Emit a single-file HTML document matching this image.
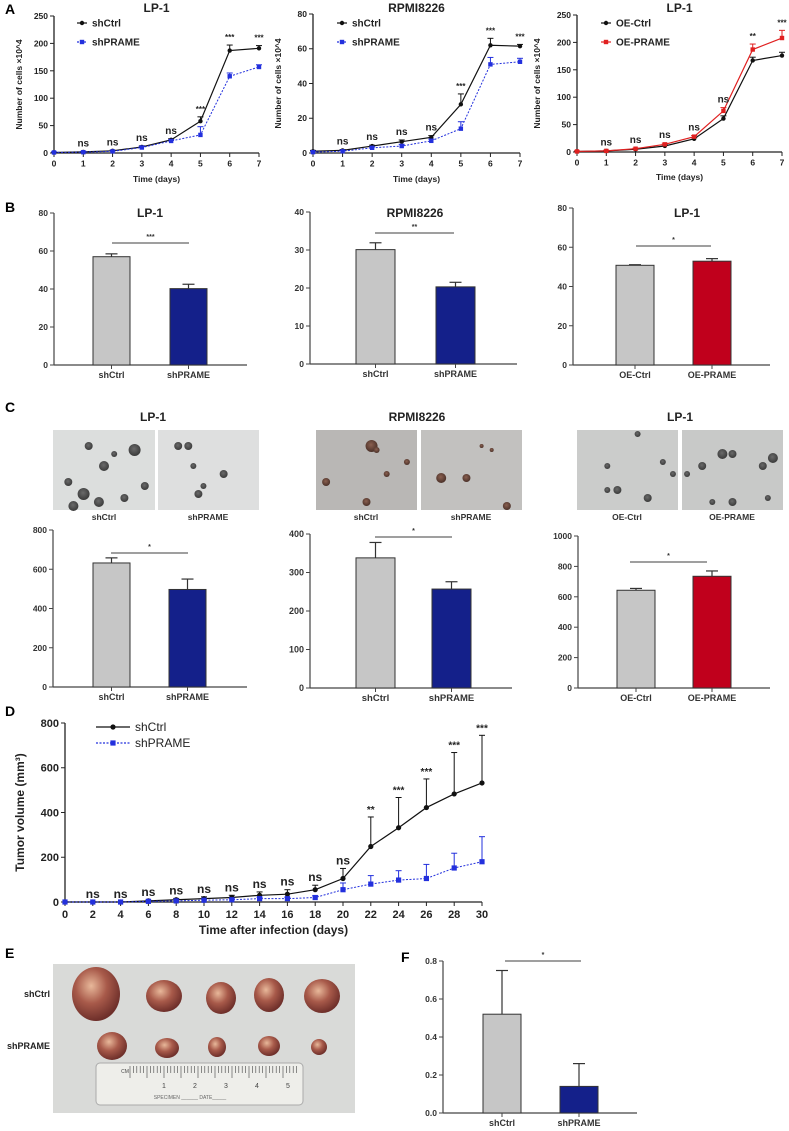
<!DOCTYPE html>
<html><head><meta charset="utf-8">
<style>
html,body{margin:0;padding:0;background:#fff;}
svg{display:block;font-family:"Liberation Sans",Arial,sans-serif;}
</style></head>
<body>
<svg id="fig" width="789" height="1131" viewBox="0 0 789 1131">
<defs>
<radialGradient id="tum" cx="40%" cy="35%" r="65%"><stop offset="0" stop-color="#e8b89a"/><stop offset="0.5" stop-color="#a85a4a"/><stop offset="1" stop-color="#6e2f2a"/></radialGradient>
<radialGradient id="col" cx="45%" cy="40%" r="60%"><stop offset="0" stop-color="#6a6a6a"/><stop offset="1" stop-color="#3a3a3a"/></radialGradient>
<radialGradient id="colr" cx="45%" cy="40%" r="60%"><stop offset="0" stop-color="#8a6050"/><stop offset="1" stop-color="#4a3028"/></radialGradient>
</defs>
</svg>
<script>
// ---------- Panel A data ----------
const A_days=[0,1,2,3,4,5,6,7];
const A1_ctrl=[1,2,4,11,24,58,187,191];
const A1_ctrlErr=[1,1,1,2,2,8,10,5];
const A1_prame=[1,1.5,3,10,22,33,140,157];
const A1_prameErr=[1,1,1,2,2,15,6,4];
const A1_sig=["","ns","ns","ns","ns","***","***","***"];
const A2_ctrl=[1,1.5,4,6.5,9,28,62,61.5];
const A2_ctrlErr=[0.5,0.5,0.5,1,1,6,4,1];
const A2_prame=[0.5,1,3,4,7,14,51,52.5];
const A2_prameErr=[0.5,0.5,0.5,1,1,4,4,2];
const A2_sig=["","ns","ns","ns","ns","***","***","***"];
const A3_ctrl=[1,2,5,11,24,61,167,176];
const A3_ctrlErr=[1,1,1,2,2,5,6,6];
const A3_prame=[1,2,6,14,28,75,187,208];
const A3_prameErr=[1,1,1,2,2,6,10,14];
const A3_sig=["","ns","ns","ns","ns","ns","**","***"];
// ---------- Panel B data ----------
const B1_cats=["shCtrl","shPRAME"]; const B1_vals=[57,40.2]; const B1_err=[1.5,2.3];
const B2_cats=["shCtrl","shPRAME"]; const B2_vals=[30.1,20.3]; const B2_err=[1.8,1.2];
const B3_cats=["OE-Ctrl","OE-PRAME"]; const B3_vals=[50.8,52.9]; const B3_err=[0.3,1.3];
// ---------- Panel C data ----------
const C1_cats=["shCtrl","shPRAME"]; const C1_vals=[632,497]; const C1_err=[26,53];
const C2_cats=["shCtrl","shPRAME"]; const C2_vals=[338,257]; const C2_err=[40,19];
const C3_cats=["OE-Ctrl","OE-PRAME"]; const C3_vals=[643,735]; const C3_err=[12,35];
// ---------- Panel D data ----------
const D_days=[0,2,4,6,8,10,12,14,16,18,20,22,24,26,28,30];
const D_ctrl=[0,0,0,5,10,15,20,30,35,55,105,248,332,422,483,532];
const D_ctrlErr=[0,0,0,3,6,8,10,15,20,20,45,132,135,128,185,213];
const D_prame=[0,0,0,3,5,8,10,15,15,20,55,80,98,105,152,180];
const D_prameErr=[0,0,0,2,3,4,5,6,6,8,30,38,42,63,66,112];
const D_sig=["","ns","ns","ns","ns","ns","ns","ns","ns","ns","ns","**","***","***","***","***"];
const D_yticks=[0,200,400,600,800];
// ---------- Panel F data ----------
const F_cats=["shCtrl","shPRAME"]; const F_vals=[0.52,0.14]; const F_err=[0.23,0.12];

const NS="http://www.w3.org/2000/svg";
const svg=document.getElementById('fig');
function mk(tag,attrs,parent,text){
  const e=document.createElementNS(NS,tag);
  for(const k in attrs)e.setAttribute(k,attrs[k]);
  if(text!==undefined)e.textContent=text;
  (parent||svg).appendChild(e);return e;
}
function txt(x,y,s,size,opts,parent){
  opts=opts||{};
  const e=mk('text',{x:x,y:y,'font-size':size,'font-weight':opts.w||'bold','text-anchor':opts.a||'middle',fill:opts.fill||'#222'},parent,s);
  if(opts.rot)e.setAttribute('transform','rotate(-90 '+x+' '+y+')');
  return e;
}
function grp(name){const g=mk('g',{});
  
  
  return g;}

function lineChart(name,c,series,sigs){
  const g=grp(name);
  const sx=v=>c.x0+(v-c.xmin)/(c.xmax-c.xmin)*(c.x1-c.x0);
  const sy=v=>c.y0-(v/c.ymax)*(c.y0-c.yTop);
  const yax=mk('line',{x1:c.x0,y1:c.y0,x2:c.x0,y2:c.yTop,stroke:'#222','stroke-width':1.3},g);
  
  
  const xax=mk('line',{x1:c.x0,y1:c.y0,x2:c.x1+(c.xpad||0),y2:c.y0,stroke:'#222','stroke-width':1.3},g);
  
  
  c.yticks.forEach(t=>{mk('line',{x1:c.x0-4,x2:c.x0,y1:sy(t),y2:sy(t),stroke:'#222'},g);
    const l=txt(c.x0-6,sy(t)+c.fs*0.35,String(t),c.fs,{a:'end'},g);
    
    });
  c.xticks.forEach(t=>{mk('line',{x1:sx(t),x2:sx(t),y1:c.y0,y2:c.y0+4,stroke:'#222'},g);
    const l=txt(sx(t),c.y0+c.fs+5,String(t),c.fs,{},g);
    
    });
  const xt=txt((c.x0+c.x1)/2,c.xtY,c.xtitle,c.tfs,{},g);
  
  
  const yt=txt(c.ytX,(c.y0+c.yTop)/2,c.ytitle,c.tfs,{rot:1},g);
  
  
  if(c.title){const tt=txt((c.x0+c.x1)/2,c.titleY,c.title,12,{},g);
    
    }
  series.forEach((s,si)=>{
    const sg=mk('g',{},g);
    
    
    s.err.forEach((e,i)=>{if(e>0){const x=sx(s.x[i]);
      mk('line',{x1:x,x2:x,y1:sy(s.y[i]),y2:sy(s.y[i]+e),stroke:s.color,'stroke-width':1},sg);
      mk('line',{x1:x-3,x2:x+3,y1:sy(s.y[i]+e),y2:sy(s.y[i]+e),stroke:s.color,'stroke-width':1},sg);}});
    const pts=s.x.map((d,i)=>sx(d)+','+sy(s.y[i])).join(' ');
    const pl=mk('polyline',{points:pts,fill:'none',stroke:s.color,'stroke-width':s.dash?1:1.2,'stroke-dasharray':s.dash?'2,1.5':'none'},sg);
    
    
    s.x.forEach((d,i)=>{let m;
      if(s.square){m=mk('rect',{x:sx(d)-c.ms,y:sy(s.y[i])-c.ms,width:2*c.ms,height:2*c.ms,fill:s.color},sg);}
      else{m=mk('circle',{cx:sx(d),cy:sy(s.y[i]),r:c.ms,fill:s.color},sg);}
      
      });
    const ly=c.legY+si*c.legDy;
    mk('line',{x1:c.legX,x2:c.legX+c.legW,y1:ly,y2:ly,stroke:s.color,'stroke-width':1.2,'stroke-dasharray':s.dash?'2,1.5':'none'},g);
    if(s.square)mk('rect',{x:c.legX+c.legW/2-c.ms,y:ly-c.ms,width:2*c.ms,height:2*c.ms,fill:s.color},g);
    else mk('circle',{cx:c.legX+c.legW/2,cy:ly,r:c.ms,fill:s.color},g);
    const lt=txt(c.legX+c.legW+5,ly+c.lfs*0.35,s.label,c.lfs,{a:'start',w:c.legW>25?'normal':'bold'},g);
    
    
  });
  sigs.forEach((s,i)=>{if(!s)return;
    let top=0;series.forEach(se=>{top=Math.max(top,se.y[i]+se.err[i]);});
    const isStar=s.indexOf('*')>=0;
    const l=txt(sx(series[0].x[i]),sy(top)-c.sigOff,s,isStar?c.starFs:c.nsFs,{},g);
    
    });
}

const aCommon={xmin:0,xmax:7,xticks:A_days,fs:8.5,tfs:8.5,ms:2.2,legDy:19,legW:10,lfs:10,sigOff:5,nsFs:10,starFs:8,xpad:0};
lineChart('chart-a1-lp1',Object.assign({},aCommon,{x0:54,x1:259,y0:153,yTop:16,ymax:250,yticks:[0,50,100,150,200,250],xtY:182,xtitle:'Time (days)',ytX:22,ytitle:'Number of cells ×10^4',title:'LP-1',titleY:12,legX:77,legY:23}),
 [{label:'shCtrl',x:A_days,y:A1_ctrl,err:A1_ctrlErr,color:'#111'},{label:'shPRAME',x:A_days,y:A1_prame,err:A1_prameErr,color:'#2330dd',dash:1,square:1}],A1_sig);
lineChart('chart-a2-rpmi8226',Object.assign({},aCommon,{x0:313,x1:520,y0:153,yTop:14,ymax:80,yticks:[0,20,40,60,80],xtY:182,xtitle:'Time (days)',ytX:281,ytitle:'Number of cells ×10^4',title:'RPMI8226',titleY:12,legX:337,legY:23}),
 [{label:'shCtrl',x:A_days,y:A2_ctrl,err:A2_ctrlErr,color:'#111'},{label:'shPRAME',x:A_days,y:A2_prame,err:A2_prameErr,color:'#2330dd',dash:1,square:1}],A2_sig);
lineChart('chart-a3-lp1-oe',Object.assign({},aCommon,{x0:577,x1:782,y0:152,yTop:15,ymax:250,yticks:[0,50,100,150,200,250],xtY:180,xtitle:'Time (days)',ytX:540,ytitle:'Number of cells ×10^4',title:'LP-1',titleY:12,legX:601,legY:23}),
 [{label:'OE-Ctrl',x:A_days,y:A3_ctrl,err:A3_ctrlErr,color:'#111'},{label:'OE-PRAME',x:A_days,y:A3_prame,err:A3_prameErr,color:'#e02020',square:1}],A3_sig);

function barChart(name,c,cats,vals,errs,colors,sig){
  const g=grp(name);
  const sy=v=>c.y0-(v/c.ymax)*(c.y0-c.yTop);
  mk('line',{x1:c.x0,y1:c.y0,x2:c.x0,y2:c.yTop,stroke:'#444','stroke-width':1.2},g);
  mk('line',{x1:c.x0,y1:c.y0,x2:c.xEnd,y2:c.y0,stroke:'#444','stroke-width':1.2},g);
  c.yticks.forEach(t=>{mk('line',{x1:c.x0-4,x2:c.x0,y1:sy(t),y2:sy(t),stroke:'#444'},g);
    const l=txt(c.x0-6,sy(t)+3,String(t),c.fs,{a:'end',fill:'#333'},g);
    
    });
  const yt=txt(c.ytX,(c.y0+c.yTop)/2,c.ytitle,c.fs,{rot:1,fill:'#333'},g);
  
  
  if(c.title){const tt=txt(c.titleX,c.titleY,c.title,12,{},g);
    
    }
  cats.forEach((cat,i)=>{const bx=c.bx[i],w=c.bw,cx=bx+w/2;
    mk('line',{x1:cx,x2:cx,y1:sy(vals[i]),y2:sy(vals[i]+errs[i]),stroke:'#333','stroke-width':1.2},g);
    mk('line',{x1:cx-6,x2:cx+6,y1:sy(vals[i]+errs[i]),y2:sy(vals[i]+errs[i]),stroke:'#333','stroke-width':1.2},g);
    const b=mk('rect',{x:bx,y:sy(vals[i]),width:w,height:c.y0-sy(vals[i]),fill:colors[i],stroke:'#333','stroke-width':1},g);
    
    
    mk('line',{x1:cx,x2:cx,y1:c.y0,y2:c.y0+4,stroke:'#444'},g);
    const l=txt(cx,c.y0+13,cat,c.fs+0.5,{fill:'#333'},g);
    
    });
  const sl=mk('line',{x1:c.sigX1,x2:c.sigX2,y1:c.sigY,y2:c.sigY,stroke:'#666','stroke-width':1.2},g);
  
  
  const st=txt((c.sigX1+c.sigX2)/2,c.sigY-4,sig,7,{fill:'#333'},g);
  
  
}
const GRAY='#c6c6c6',NAVY='#14208a',RED='#c0001c';
barChart('chart-b1-edu-lp1',{x0:54,xEnd:247,y0:365,yTop:213,ymax:80,yticks:[0,20,40,60,80],fs:8.5,ytX:24,bx:[93,170],bw:37,title:'LP-1',titleX:150,titleY:217,sigX1:112,sigX2:189,sigY:243},B1_cats,B1_vals,B1_err,[GRAY,NAVY],'***');
barChart('chart-b2-edu-rpmi',{x0:310,xEnd:517,y0:364,yTop:212,ymax:40,yticks:[0,10,20,30,40],fs:8.5,ytX:281,bx:[356,436],bw:39,title:'RPMI8226',titleX:415,titleY:217,sigX1:375,sigX2:454,sigY:233},B2_cats,B2_vals,B2_err,[GRAY,NAVY],'**');
barChart('chart-b3-edu-oe',{x0:573,xEnd:770,y0:365,yTop:208,ymax:80,yticks:[0,20,40,60,80],fs:8.5,ytX:539,bx:[616,693],bw:38,title:'LP-1',titleX:687,titleY:217,sigX1:636,sigX2:711,sigY:246},B3_cats,B3_vals,B3_err,[GRAY,RED],'*');
barChart('chart-c1-colony-lp1',{x0:53,xEnd:247,y0:687,yTop:530,ymax:800,yticks:[0,200,400,600,800],fs:8.5,ytX:19,bx:[93,169],bw:37,title:'LP-1',titleX:153,titleY:421,sigX1:111,sigX2:188,sigY:553},C1_cats,C1_vals,C1_err,[GRAY,NAVY],'*');
barChart('chart-c2-colony-rpmi',{x0:310,xEnd:512,y0:688,yTop:534,ymax:400,yticks:[0,100,200,300,400],fs:9,ytX:277,bx:[356,432],bw:39,title:'RPMI8226',titleX:417,titleY:421,sigX1:375,sigX2:452,sigY:537},C2_cats,C2_vals,C2_err,[GRAY,NAVY],'*');
barChart('chart-c3-colony-oe',{x0:578,xEnd:770,y0:688,yTop:536,ymax:1000,yticks:[0,200,400,600,800,1000],fs:8.5,ytX:543,bx:[617,693],bw:38,title:'LP-1',titleX:680,titleY:421,sigX1:630,sigX2:707,sigY:562},C3_cats,C3_vals,C3_err,[GRAY,RED],'*');
barChart('chart-f-tumor-weight',{x0:443,xEnd:637,y0:1113,yTop:961,ymax:0.8,yticks:['0.0','0.2','0.4','0.6','0.8'],fs:8.5,ytX:404,bx:[483,560],bw:38,sigX1:505,sigX2:581,sigY:961},F_cats,F_vals,F_err,[GRAY,NAVY],'*');

lineChart('chart-d-tumor-volume',{x0:65,x1:482,xmin:0,xmax:30,y0:902,yTop:723,ymax:800,yticks:D_yticks,xticks:D_days,fs:11,tfs:12,ms:2.6,xtY:934,xtitle:'Time after infection (days)',ytX:24,ytitle:'Tumor volume (mm³)',legX:96,legY:727,legDy:16,legW:34,lfs:12,sigOff:4,nsFs:12,starFs:10,xpad:0},
 [{label:'shCtrl',x:D_days,y:D_ctrl,err:D_ctrlErr,color:'#111'},{label:'shPRAME',x:D_days,y:D_prame,err:D_prameErr,color:'#2330dd',dash:1,square:1}],D_sig);

[['A',5,14],['B',5,212],['C',5,412],['D',5,716],['E',5,958],['F',401,962]].forEach(p=>{
  const l=txt(p[1],p[2],p[0],14,{a:'start',fill:'#000'});
  
  });

function colonyImg(name,x,y,w,h,dots,fill,bg){
  const g=grp(name);
  mk('rect',{x:x,y:y,width:w,height:h,fill:bg},g);
  dots.forEach(d=>mk('circle',{cx:x+d[0]*w,cy:y+d[1]*h,r:d[2],fill:fill},g));
}
const dotsA=[[0.5,0.45,5],[0.3,0.8,6],[0.15,0.65,4],[0.8,0.25,6],[0.6,0.3,3],[0.45,0.9,5],[0.7,0.85,4],[0.9,0.7,4],[0.2,0.95,5],[0.35,0.2,4]];
const dotsB=[[0.2,0.2,4],[0.3,0.2,4],[0.35,0.45,3],[0.65,0.55,4],[0.4,0.8,4],[0.45,0.7,3]];
const dotsC=[[0.55,0.2,6],[0.1,0.65,4],[0.5,0.9,4],[0.7,0.55,3],[0.6,0.25,3],[0.9,0.4,3]];
const dotsD=[[0.2,0.6,5],[0.45,0.6,4],[0.85,0.95,4],[0.6,0.2,2],[0.7,0.25,2]];
const dotsE=[[0.6,0.05,3],[0.3,0.45,3],[0.85,0.4,3],[0.3,0.75,3],[0.4,0.75,4],[0.7,0.85,4],[0.95,0.55,3]];
const dotsF=[[0.2,0.45,4],[0.4,0.3,5],[0.5,0.3,4],[0.8,0.45,4],[0.9,0.35,5],[0.05,0.55,3],[0.5,0.9,4],[0.3,0.9,3],[0.85,0.85,3]];
colonyImg('colony-image-lp1-shctrl',53,430,102,80,dotsA,'url(#col)','#dcdedd');
colonyImg('colony-image-lp1-shprame',158,430,101,80,dotsB,'url(#col)','#dedfdf');
colonyImg('colony-image-rpmi-shctrl',316,430,101,80,dotsC,'url(#colr)','#b9b7b5');
colonyImg('colony-image-rpmi-shprame',421,430,101,80,dotsD,'url(#colr)','#c2c1bf');
colonyImg('colony-image-lp1-oectrl',577,430,101,80,dotsE,'url(#col)','#cbcccb');
colonyImg('colony-image-lp1-oeprame',682,430,101,80,dotsF,'url(#col)','#c8c9c8');
[['shCtrl',104],['shPRAME',208],['shCtrl',366],['shPRAME',471],['OE-Ctrl',627],['OE-PRAME',732]].forEach(p=>{
  const l=txt(p[1],520,p[0],8.5,{fill:'#333'});
  
  });

const eg=grp('tumor-photo');
mk('rect',{x:53,y:964,width:302,height:149,fill:'#d9dad8'},eg);
[[96,994,24,27],[164,996,18,16],[221,998,15,16],[269,995,15,17],[322,996,18,17],[112,1046,15,14],[167,1048,12,10],[217,1047,9,10],[269,1046,11,10],[319,1047,8,8]].forEach(t=>{
  const e=mk('ellipse',{cx:t[0],cy:t[1],rx:t[2],ry:t[3],fill:'url(#tum)'},eg);
  
  });
mk('rect',{x:96,y:1063,width:207,height:42,rx:4,fill:'#eeeeea',stroke:'#aaa'},eg);
for(let i=0;i<50;i++){mk('line',{x1:130+i*3.4,x2:130+i*3.4,y1:1066,y2:i%5==0?1078:1073,stroke:'#444','stroke-width':0.6},eg);}
['1','2','3','4','5'].forEach((n,i)=>txt(164+i*31,1088,n,7,{w:'normal',fill:'#444'},eg));
txt(125,1073,'CM',5,{w:'normal',fill:'#444'},eg);
txt(190,1099,'SPECIMEN ______ DATE_____',5,{w:'normal',fill:'#666'},eg);
const el1=txt(50,997,'shCtrl',9,{a:'end',fill:'#222'});


const el2=txt(50,1049,'shPRAME',9,{a:'end',fill:'#222'});


</script>
</body></html>
